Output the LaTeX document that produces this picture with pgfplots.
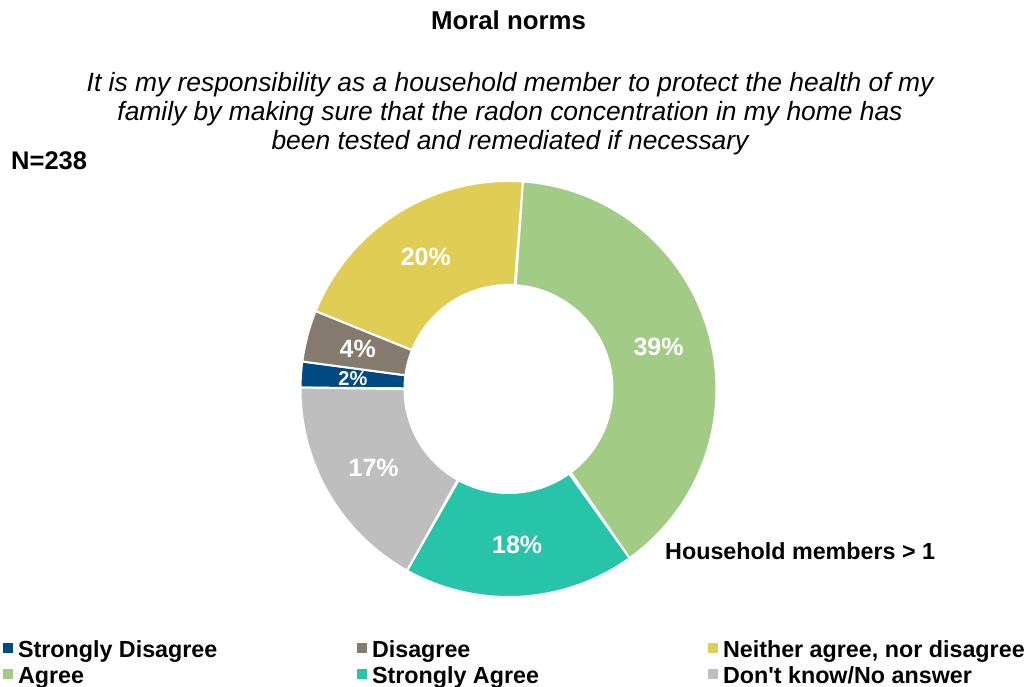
\documentclass[border=0pt]{standalone}
\usepackage{pgfplots}
\pgfplotsset{compat=1.18}
\usepackage{fontspec}
\setmainfont{Liberation Sans}
\newfontfamily\arial{Liberation Sans}
\definecolor{cSD}{RGB}{0,73,130}
\definecolor{cD}{RGB}{132,122,110}
\definecolor{cN}{RGB}{224,205,85}
\definecolor{cA}{RGB}{162,203,133}
\definecolor{cSA}{RGB}{40,196,170}
\definecolor{cDK}{RGB}{190,190,190}
% slice: #1 start (cumulative %), #2 end (cumulative %), #3 colour
\newcommand\slice[3]{%
 \addplot[fill=#3, draw=white, line width=2pt, domain=0:2, samples=241, variable=\t]
 ({ifthenelse(\t<=1,1,0.5)*sin(4+3.6*ifthenelse(\t<=1,#1+\t*(#2-#1),#2-(\t-1)*(#2-#1)))},
  {ifthenelse(\t<=1,1,0.5)*cos(4+3.6*ifthenelse(\t<=1,#1+\t*(#2-#1),#2-(\t-1)*(#2-#1)))}) -- cycle;
}
\newcommand\slicelabel[4]{%
 \node[text=white, inner sep=0pt, font=\fontsize{#3}{#3}\selectfont\bfseries]
   at (axis cs:{0.75*sin(4+1.8*(#1+#2))},{0.75*cos(4+1.8*(#1+#2))}) {#4};
}
\begin{document}
\begin{tikzpicture}
\path[use as bounding box] (0,0) rectangle (1032pt,686pt);
\begin{axis}[
  at={(508.5pt,297pt)}, anchor=center,
  x=208pt, y=208pt, xmin=-1, xmax=1, ymin=-1, ymax=1,
  hide axis, clip=false,
  legend columns=3,
  legend cell align=left,
  legend style={at={(-0.7151,-0.1034)}, anchor=north west, draw=none, fill=none,
    inner sep=0pt, outer sep=0pt, row sep=0pt,
    font=\arial\fontsize{23.3}{26}\selectfont\bfseries,
    nodes={inner sep=0pt, text height=17pt, text depth=9pt},
    /tikz/every odd column/.append style={column sep=5pt},
    /tikz/every even column/.append style={column sep=0pt}},
  legend image code/.code={\fill[#1, draw=none] (0pt,0pt) rectangle (10pt,10pt);},
]
% values (%): Strongly Disagree 2, Disagree 4, Neither 20, Agree 39, Strongly Agree 18, Don't know 17
\slice{74}{76}{cSD}
\addlegendentry{\makebox[339pt][l]{Strongly Disagree}}
\slice{76}{80}{cD}
\addlegendentry{\makebox[336pt][l]{Disagree}}
\slice{80}{100}{cN}
\addlegendentry{Neither agree, nor disagree}
\slice{0}{39}{cA}
\addlegendentry{\makebox[339pt][l]{Agree}}
\slice{39}{57}{cSA}
\addlegendentry{\makebox[336pt][l]{Strongly Agree}}
\slice{57}{74}{cDK}
\addlegendentry{Don't know/No answer}
\slicelabel{74}{76}{20}{2\%}
\slicelabel{76}{80}{25}{4\%}
\slicelabel{80}{100}{25}{20\%}
\slicelabel{0}{39}{25}{39\%}
\slicelabel{39}{57}{25}{18\%}
\slicelabel{57}{74}{25}{17\%}
\end{axis}
\node[anchor=base, inner sep=0pt, font=\fontsize{25.8}{30}\selectfont\bfseries] at (508.5pt,656pt) {Moral norms};
\begin{scope}[every node/.style={anchor=base, inner sep=0pt, font=\fontsize{26.4}{30}\selectfont\itshape}]
\node at (510pt,594pt) {It is my responsibility as a household member to protect the health of my};
\node at (510pt,565pt) {family by making sure that the radon concentration in my home has};
\node at (510pt,536pt) {been tested and remediated if necessary};
\end{scope}
\node[anchor=base west, inner sep=0pt, font=\fontsize{25.5}{28}\selectfont\bfseries] at (11pt,516pt) {N=238};
\node[anchor=base west, inner sep=0pt, font=\fontsize{23.3}{28}\selectfont\bfseries] at (665pt,127pt) {Household members > 1};
\end{tikzpicture}
\end{document}
